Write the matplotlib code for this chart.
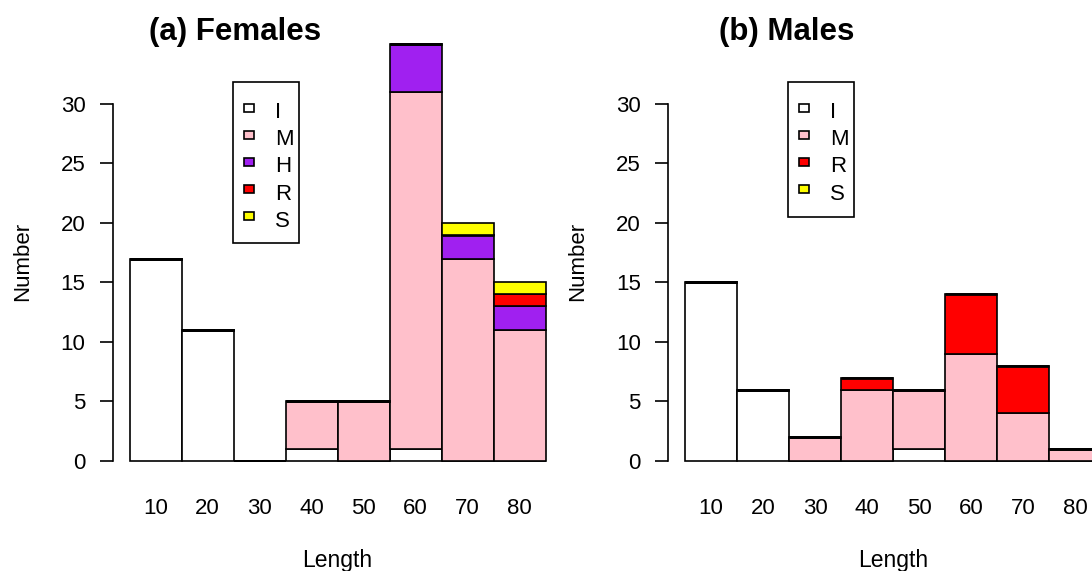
import numpy as np
import matplotlib
matplotlib.use("Agg")
import matplotlib.pyplot as plt
from matplotlib.patches import Rectangle

plt.rcParams['font.family'] = ['Liberation Sans', 'DejaVu Sans']

# data
lengths = ["10", "20", "30", "40", "50", "60", "70", "80"]

fem_I = [17, 11, 0, 1, 0, 1, 0, 0]
fem_M = [0, 0, 0, 4, 5, 30, 17, 11]
fem_H = [0, 0, 0, 0, 0, 4, 2, 2]
fem_R = [0, 0, 0, 0, 0, 0, 0, 1]
fem_S = [0, 0, 0, 0, 0, 0, 1, 1]

mal_I = [15, 6, 0, 0, 1, 0, 0, 0]
mal_M = [0, 0, 2, 6, 5, 9, 4, 1]
mal_R = [0, 0, 0, 1, 0, 5, 4, 0]
mal_S = [0, 0, 0, 0, 0, 0, 0, 0]

cols = {"I": "white", "M": "pink", "H": "#A020F0", "R": "red", "S": "yellow"}

W, H = 1092, 571
fig = plt.figure(figsize=(W / 100, H / 100), dpi=100)

def fx(px):
    return px / W

def fy(py):
    return 1 - py / H

FS = 16
ppu = 11.91          # pixels per count
y0 = 461             # pixel row of zero
top = 30


def panel(axis_px, bar0_px, right_px, series, title, tx):
    ax = fig.add_axes([fx(axis_px), fy(y0), fx(right_px - axis_px), (y0 - top) / H])
    xmin = -0.5 - (bar0_px - axis_px) / 52
    xmax = -0.5 + (right_px - bar0_px) / 52
    ax.set_xlim(xmin, xmax)
    ax.set_ylim(0, (y0 - top) / ppu)
    x = np.arange(len(lengths))
    bottom = np.zeros(len(lengths))
    for name, vals in series:
        vals = np.array(vals, dtype=float)
        # empty segments stacked on something show as a heavier line (as in R)
        lws = [2.0 if (v == 0 and b > 0) else 1.2 for v, b in zip(vals, bottom)]
        ax.bar(x, vals, width=1, bottom=bottom, color=cols[name],
               edgecolor="black", linewidth=lws, clip_on=False)
        bottom = bottom + vals
    for s in ["top", "right", "bottom"]:
        ax.spines[s].set_visible(False)
    ax.spines["left"].set_bounds(0, 30)
    ax.spines["left"].set_linewidth(1.2)
    ax.set_yticks([0, 5, 10, 15, 20, 25, 30])
    ax.tick_params(axis="y", length=9.5, width=1.2, pad=10, labelsize=FS)
    ax.set_xticks(x)
    ax.set_xticklabels(lengths)
    ax.tick_params(axis="x", length=0, pad=27, labelsize=FS)
    fig.text(fx(tx), fy(32), title, fontsize=22.5, fontweight="bold",
             ha="center", va="center")
    fig.text(fx(bar0_px + 208), fy(566.5), "Length", fontsize=16.5,
             ha="center", va="baseline")
    fig.text(fx(axis_px - 90), fy(261), "Number", fontsize=FS, rotation=90,
             ha="center", va="center")
    return ax


def legend(box, sq_x, txt_x, names):
    x0, y0b, x1, y1b = box
    fig.patches.append(Rectangle((fx(x0), fy(y1b)), fx(x1 - x0), (y1b - y0b) / H,
                                 transform=fig.transFigure, facecolor="white",
                                 edgecolor="black", linewidth=1.2, zorder=5))
    for i, n in enumerate(names):
        yc = 107.5 + 27.2 * i
        fig.patches.append(Rectangle((fx(sq_x), fy(yc + 4)), fx(10), 8 / H,
                                     transform=fig.transFigure, facecolor=cols[n],
                                     edgecolor="black", linewidth=1.2, zorder=6))
        fig.text(fx(txt_x), fy(yc + 5), n, fontsize=FS, ha="left", va="center",
                 zorder=7)


panel(112.5, 129.5, 546, [("I", fem_I), ("M", fem_M), ("H", fem_H),
                          ("R", fem_R), ("S", fem_S)],
      "(a) Females", 235)
panel(668, 685, 1092, [("I", mal_I), ("M", mal_M), ("R", mal_R), ("S", mal_S)],
      "(b) Males", 787)

legend((233, 82, 299, 243), 244, 275, ["I", "M", "H", "R", "S"])
legend((788, 82, 854, 217), 799, 830, ["I", "M", "R", "S"])

fig.savefig("out.png", dpi=100)
